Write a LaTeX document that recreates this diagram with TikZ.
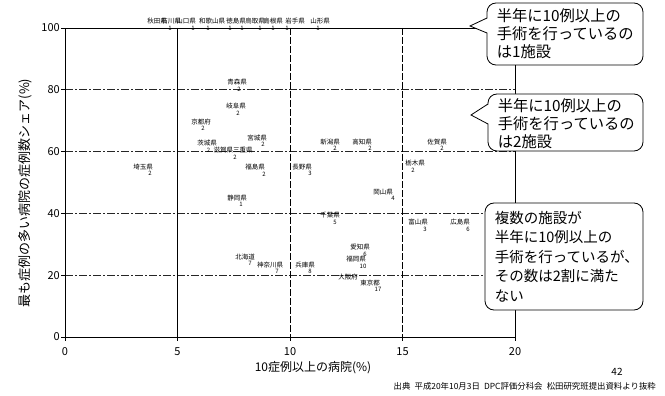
\documentclass[tikz,border=0pt]{standalone}
\usepackage{fontspec}
\setmainfont{Noto Sans CJK JP}
\usetikzlibrary{calc}
\begin{document}
\begin{tikzpicture}[x=1pt,y=-1pt,
  pref/.style={font=\fontsize{6.5}{7}\selectfont, inner sep=0pt},
  num/.style={font=\fontsize{6}{6}\selectfont, inner sep=0pt},
  ticklab/.style={font=\fontsize{11}{12}\selectfont, inner sep=0pt},
  gridh/.style={line width=0.6pt, black!85, dash pattern=on 8pt off 2pt on 2pt off 2pt},
  gridsolid/.style={line width=0.7pt},
  griddash/.style={line width=0.7pt, dash pattern=on 7pt off 2pt},
  frame/.style={line width=0.8pt},
  callbox/.style={draw, line width=0.8pt, fill=white, rounded corners=9pt, inner sep=0pt},
  calltext/.style={font=\fontsize{15.3}{18}\selectfont, align=left, anchor=west, inner sep=0pt},
  calltextb/.style={font=\fontsize{14.5}{19.5}\selectfont, align=left, anchor=west, inner sep=0pt}]
\useasboundingbox (0,0) rectangle (665,396);

% grid
\foreach \y in {89.8,151.6,213.4,275.2} \draw[gridh] (65,\y) -- (515,\y);
\draw[gridsolid] (177.5,28) -- (177.5,337);
\draw[griddash] (290,28) -- (290,337);
\draw[griddash] (402.5,28) -- (402.5,337);
\draw[frame] (65,28) rectangle (515,337);

% ticks
\foreach \y/\t in {28/100,89.8/80,151.6/60,213.4/40,275.2/20,337/0} {
  \draw[frame] (61,\y) -- (65,\y);
  \node[ticklab, anchor=east] (yl\t) at (60,\y) {\t};
}
\foreach \x/\t in {65/0,177.5/5,290/10,402.5/15,515/20} {
  \draw[frame] (\x,337) -- (\x,341);
  \node[ticklab] (xl\t) at (\x,352) {\t};
}

% axis titles
\node[rotate=90, font=\fontsize{13}{13}\selectfont, inner sep=0pt] (ytitle) at (25,193) {最も症例の多い病院の症例数シェア(\%)};
\node[font=\fontsize{12}{12}\selectfont, inner sep=0pt] (xtitle) at (313,368) {10症例以上の病院(\%)};
\node[font=\fontsize{10}{10}\selectfont, inner sep=0pt] (pnum) at (617,372) {42};
\node[font=\fontsize{8.4}{9}\selectfont, inner sep=0pt, anchor=east] (src) at (656,386) {出典\hspace{0.5em}平成20年10月3日\hspace{0.5em}DPC評価分科会\hspace{0.5em}松田研究班提出資料より抜粋};

% top cluster (100%)
\node[pref] (t1) at (157,21) {秋田県};
\node[pref] (t2) at (171,21) {石川県};
\node[pref] (t3) at (186,21) {山口県};
\node[pref] (t4) at (212,21) {和歌山県};
\node[pref] (t5) at (236,21) {徳島県};
\node[pref] (t6) at (255,21) {鳥取県};
\node[pref] (t7) at (273,21) {島根県};
\node[pref] (t8) at (295,21) {岩手県};
\node[pref] (t9) at (320,21) {山形県};
\foreach \x [count=\i] in {170,193,208,230,242,260,273,287,318}
  \node[num] (tn\i) at (\x,28.5) {1};

% prefecture points
\node[pref] (p1) at (237,82) {青森県};   \node[num] (n1) at (239,89) {2};
\node[pref] (p2) at (236,106) {岐阜県};  \node[num] (n2) at (238,113) {2};
\node[pref] (p3) at (201,122) {京都府};  \node[num] (n3) at (203,128) {2};
\node[pref] (p4) at (257,138) {宮城県};  \node[num] (n4) at (263,144) {2};
\node[pref] (p5) at (207,143) {茨城県};
\node[pref] (p6) at (233,150) {滋賀県三重県}; \node[num] (n5) at (208.5,150) {2};
\node[num] (n6) at (235,157) {2};
\node[pref] (p7) at (143,167) {埼玉県};  \node[num] (n7) at (150,173) {2};
\node[pref] (p8) at (255,167) {福島県};  \node[num] (n8) at (264,174) {2};
\node[pref] (p9) at (302,167) {長野県};  \node[num] (n9) at (310,173) {3};
\node[pref] (p10) at (330,142) {新潟県}; \node[num] (n10) at (335,148) {2};
\node[pref] (p11) at (362,142) {高知県}; \node[num] (n11) at (370,148) {2};
\node[pref] (p12) at (437,142) {佐賀県}; \node[num] (n12) at (442,148) {2};
\node[pref] (p13) at (415,163) {栃木県}; \node[num] (n13) at (413,170) {2};
\node[pref] (p14) at (383,192) {岡山県}; \node[num] (n14) at (393,198) {4};
\node[pref] (p15) at (237,198) {静岡県}; \node[num] (n15) at (241,204) {1};
\node[pref] (p16) at (330,215) {千葉県}; \node[num] (n16) at (335,222) {5};
\node[pref] (p17) at (418,222) {富山県}; \node[num] (n17) at (425,229) {3};
\node[pref] (p18) at (460,222) {広島県}; \node[num] (n18) at (468,229) {6};
\node[pref] (p19) at (360,247) {愛知県}; \node[num] (n19) at (365,254) {6};
\node[pref] (p20) at (356,259) {福岡県}; \node[num] (n20) at (363,266) {10};
\node[pref] (p21) at (348,277) {大阪府};
\node[pref] (p22) at (370,283) {東京都}; \node[num] (n22) at (378,289) {17};
\node[pref] (p23) at (245,257) {北海道}; \node[num] (n23) at (250,263) {7};
\node[pref] (p24) at (270,265) {神奈川県}; \node[num] (n24) at (277,271) {7};
\node[pref] (p25) at (305,265) {兵庫県}; \node[num] (n25) at (310,271) {8};

% callouts
\node[callbox, minimum width=156pt, minimum height=62pt] (c1) at (565,34) {};
\coordinate (tip1) at (470,26);
\fill[white] (488.5,18) -- (tip1) -- (488.5,33) -- cycle;
\draw[line width=0.8pt] (487,18) -- (tip1) -- (487,33);
\node[calltext] (c1t) at ($(c1.west)+(10,0)$) {半年に10例以上の\\手術を行っているの\\は1施設};

\node[callbox, minimum width=155pt, minimum height=57pt] (c2) at (565.5,122.5) {};
\coordinate (tip2) at (471,115);
\fill[white] (489.5,104) -- (tip2) -- (489.5,124) -- cycle;
\draw[line width=0.8pt] (488,104) -- (tip2) -- (488,124);
\node[calltext] (c2t) at ($(c2.west)+(10,1)$) {半年に10例以上の\\手術を行っているの\\は2施設};

\node[callbox, minimum width=158pt, minimum height=107pt] (c3) at (564,256.5) {};
\node[calltextb] (c3t) at ($(c3.west)+(10,0)$) {複数の施設が\\半年に10例以上の\\手術を行っているが、\\その数は2割に満た\\ない};
\end{tikzpicture}
\end{document}
